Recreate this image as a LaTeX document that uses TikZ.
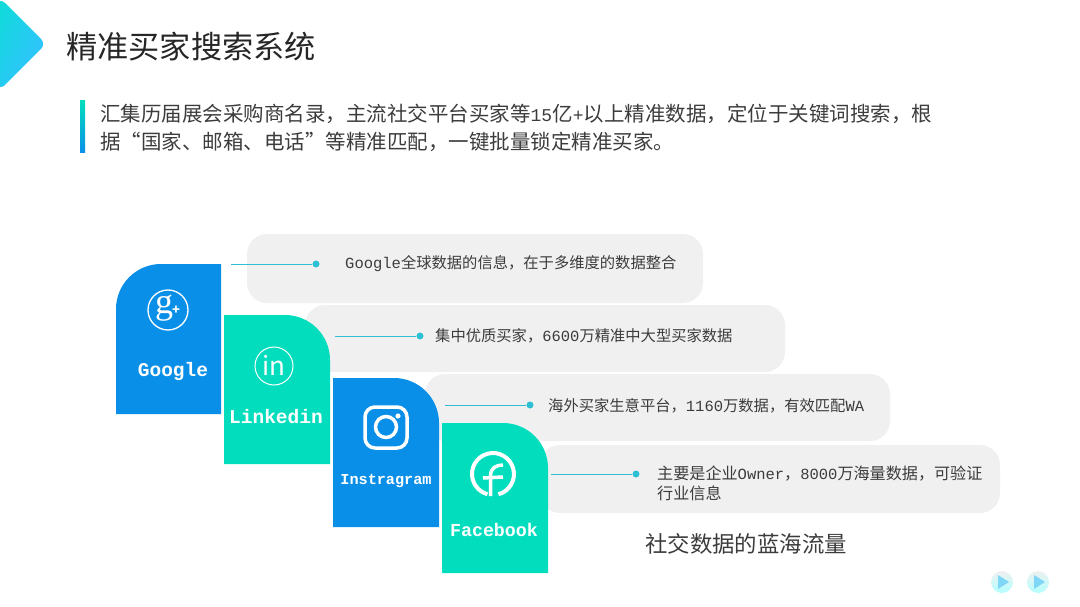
\documentclass[tikz,border=0pt]{standalone}
\usepackage{fontspec}
\setmainfont{Noto Sans CJK SC}
\newfontfamily\latinfont{Liberation Mono}
\newfontfamily\iconfont{Liberation Serif}
\newcommand{\lat}[1]{{\latinfont\fontsize{15.5}{15.5}\selectfont #1}}
\usetikzlibrary{positioning}
\definecolor{cardblue}{HTML}{0A8FE8}
\definecolor{cardteal}{HTML}{02DDBE}
\definecolor{pillgray}{HTML}{F0F0F1}
\definecolor{linkteal}{HTML}{2FBFD2}
\definecolor{bodygray}{HTML}{3C3C3C}
\tikzset{
  pill/.style={fill=pillgray,rounded corners=20pt},
  blurb/.style={anchor=west,inner sep=0pt,align=left,text=bodygray,font=\fontsize{15.3}{20}\selectfont},
  cardname/.style={inner sep=0pt,text=white,font=\latinfont\bfseries\fontsize{#1}{#1}\selectfont},
  tipdot/.style={circle,fill=linkteal,inner sep=0pt,minimum size=7pt},
  icon/.style={draw=white,line width=#1},
  playbtn/.style={circle,inner sep=0pt,minimum size=22pt,top color=black!6,bottom color=cyan!30!white},
}
\begin{document}
\begin{tikzpicture}[x=1pt,y=-1pt]
  \useasboundingbox (0,0) rectangle (1080,607);
  % header
  \path[left color=cardteal!80!cyan,right color=cyan!70!blue!80!white,rounded corners=7pt,shading angle=60]
    (-44,44) -- (0,-2) -- (46,44) -- (0,90) -- cycle;
  \path[top color=cardteal,bottom color=cardblue] (80,101) rectangle (85,153);
  \node (title) [anchor=west,inner sep=0pt,text=black!85,font=\fontsize{31.2}{31.2}\selectfont] at (66,47) {精准买家搜索系统};
  \node (intro) [anchor=west,inner sep=0pt,align=left,text=bodygray,font=\fontsize{20.5}{28}\selectfont] at (100,128)
    {汇集历届展会采购商名录，主流社交平台买家等{\latinfont\fontsize{18}{18}\selectfont 15}亿{\latinfont\fontsize{18}{18}\selectfont +}以上精准数据，定位于关键词搜索，根\\
     据“国家、邮箱、电话”等精准匹配，一键批量锁定精准买家。};
  % grey strips
  \path[pill] (247,234) rectangle (703,303);
  \path[pill] (305,305) rectangle (785,372);
  \path[pill] (425,374) rectangle (890,441);
  \path[pill] (540,445) rectangle (1000,513);
  % cards
  \fill[cardblue] (116,414) [rounded corners=45pt] -- (116,264) [sharp corners] -- (221,264) -- (221,414) -- cycle;
  \fill[cardteal] (224,315) [rounded corners=45pt] -- (330,315) [sharp corners] -- (330,464) -- (224,464) -- cycle;
  \fill[cardblue] (333,378) [rounded corners=45pt] -- (439,378) [sharp corners] -- (439,527) -- (333,527) -- cycle;
  \fill[cardteal] (442,423) [rounded corners=45pt] -- (548,423) [sharp corners] -- (548,573) -- (442,573) -- cycle;
  \node (google) [cardname=19.5] at (173,371) {Google};
  \node (linkedin) [cardname=19.5] at (276,417) {Linkedin};
  \node (instagram) [cardname=15.2] at (386,481) {Instragram};
  \node (facebook) [cardname=18.3] at (494,530) {Facebook};
  % icons
  \draw[icon=1.3pt] (168,310) circle (20);
  \node (gicon) [inner sep=0pt,text=white,font=\iconfont\fontsize{36}{36}\selectfont] at (164,308) {g};
  \node (gplus) [inner sep=0pt,text=white,font=\bfseries\fontsize{13}{13}\selectfont] at (176,310) {+};
  \draw[icon=1pt] (274,366) circle (19);
  \node (inicon) [inner sep=0pt,text=white,font=\fontsize{26}{26}\selectfont] at (274,365) {in};
  \draw[icon=3.5pt,rounded corners=10pt] (365,407) rectangle (407,448);
  \draw[icon=3.5pt] (386,427) circle (10.5);
  \fill[white] (398,416) circle (2.6);
  \draw[icon=4pt] (498.4,494.3) arc[start angle=75,end angle=-255,radius=21];
  \draw[icon=3.5pt] (490.5,496) -- (490.5,476) .. controls (490.5,468) and (496,465) .. (503,465);
  \draw[icon=3.5pt] (483,478) -- (503,477);
  % connectors
  \coordinate (gstart) at (231,264);
  \coordinate (lstart) at (335,336);
  \coordinate (istart) at (445,405);
  \coordinate (fstart) at (551,474);
  \node (gdot) [tipdot] at (316,264) {};
  \node (ldot) [tipdot] at (420,336) {};
  \node (idot) [tipdot] at (530,405) {};
  \node (fdot) [tipdot] at (636,474) {};
  \path[draw=linkteal,line width=1pt]
    (gstart) edge (gdot)
    (lstart) edge (ldot)
    (istart) edge (idot)
    (fstart) edge (fdot)
  ;
  % texts
  \node (gtext) [blurb] at (345,264) {\lat{Google}全球数据的信息，在于多维度的数据整合};
  \node (ltext) [blurb] at (435,336) {集中优质买家，\lat{6600}万精准中大型买家数据};
  \node (itext) [blurb] at (548,406) {海外买家生意平台，\lat{1160}万数据，有效匹配\lat{WA}};
  \node (ftext) [blurb,font=\fontsize{16.1}{20}\selectfont] at (657,483) {主要是企业\lat{Owner}，\lat{8000}万海量数据，可验证\\行业信息};
  \node (bluesea) [anchor=west,inner sep=0pt,text=bodygray,font=\fontsize{22.4}{22.4}\selectfont] at (645,544) {社交数据的蓝海流量};
  % play buttons
  \node (playa) [playbtn] at (1002,582) {};
  \node (playb) [playbtn] at (1038,582) {};
  \fill[cyan!50!white] (998,575) -- (1009,582) -- (998,589) -- cycle;
  \fill[cyan!50!white] (1034,575) -- (1045,582) -- (1034,589) -- cycle;
\end{tikzpicture}
\end{document}
